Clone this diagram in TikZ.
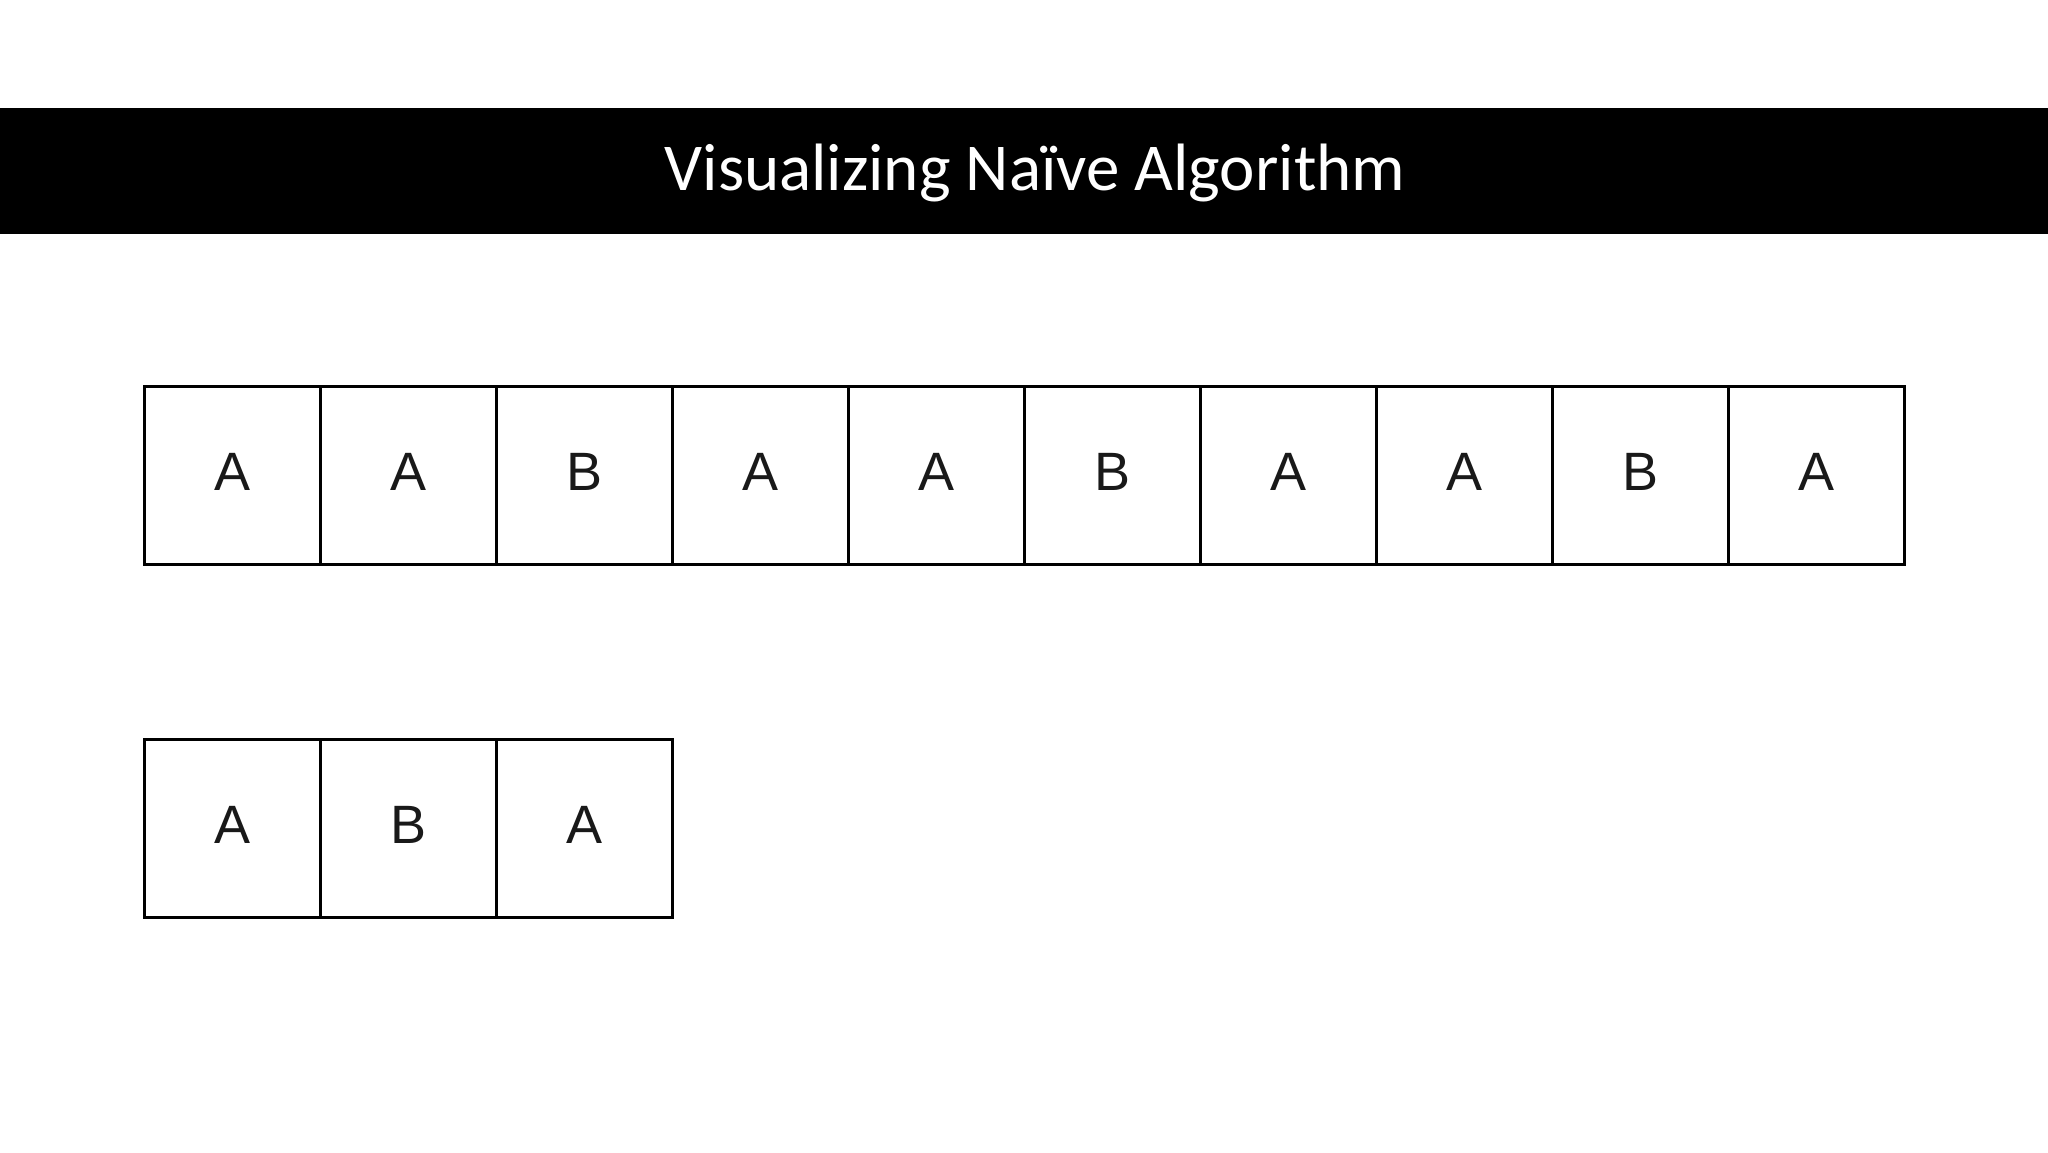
\documentclass[tikz,border=0pt]{standalone}
\usepackage{fontspec}
\setmainfont{Liberation Sans}
\newfontfamily\titlefont{Carlito}
\begin{document}
\begin{tikzpicture}[x=1pt,y=-1pt,
  cell/.style={draw=black,line width=3pt,minimum width=176pt,minimum height=178pt,inner sep=0pt,anchor=north west,font=\fontsize{54}{60}\selectfont,text=black!90},
  titlebar/.style={fill=black,draw=none}]
\useasboundingbox (0,0) rectangle (2048,1152);
\fill[white] (0,0) rectangle (2048,1152);
\fill[black] (0,108) rectangle (2048,234);
\node[text=white,font=\titlefont\fontsize{67}{70}\selectfont,anchor=base] (title) at (1035,190) {Visualizing Naïve Algorithm};
\foreach \l [count=\i from 0] in {A,A,B,A,A,B,A,A,B,A} {
  \node[cell] (t\i) at ({143+176*\i},385) {\raisebox{8pt}{\l}};
}
\foreach \l [count=\i from 0] in {A,B,A} {
  \node[cell] (p\i) at ({143+176*\i},738) {\raisebox{8pt}{\l}};
}
\end{tikzpicture}
\end{document}
